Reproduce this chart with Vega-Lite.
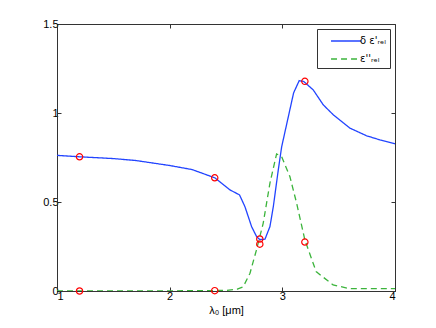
{
  "$schema": "https://vega.github.io/schema/vega-lite/v6.json",
  "width": 338,
  "height": 267,
  "autosize": {"type": "none"},
  "padding": {"left": 57, "top": 24, "right": 41, "bottom": 37},
  "background": "white",
  "config": {
    "font": "Liberation Sans",
    "view": {"stroke": "#333333", "strokeWidth": 1},
    "axis": {
      "grid": false,
      "domainColor": "#333333",
      "tickColor": "#333333",
      "tickSize": -4,
      "labelFont": "Liberation Sans",
      "labelFontSize": 11,
      "labelColor": "#000000",
      "titleFont": "Liberation Sans",
      "titleFontSize": 11,
      "titleFontWeight": "normal",
      "titleColor": "#000000"
    },
    "legend": {
      "labelFont": "DejaVu Sans",
      "labelFontSize": 10,
      "labelColor": "#000000"
    }
  },
  "datasets": {
    "curves": [
      {"s": "δ ε'ᵣₑₗ", "x": 1.0, "y": 0.762},
      {"s": "δ ε'ᵣₑₗ", "x": 1.2, "y": 0.754},
      {"s": "δ ε'ᵣₑₗ", "x": 1.5, "y": 0.744},
      {"s": "δ ε'ᵣₑₗ", "x": 1.7, "y": 0.733},
      {"s": "δ ε'ᵣₑₗ", "x": 2.0, "y": 0.705},
      {"s": "δ ε'ᵣₑₗ", "x": 2.2, "y": 0.682},
      {"s": "δ ε'ᵣₑₗ", "x": 2.4, "y": 0.636},
      {"s": "δ ε'ᵣₑₗ", "x": 2.535, "y": 0.568},
      {"s": "δ ε'ᵣₑₗ", "x": 2.62, "y": 0.54},
      {"s": "δ ε'ᵣₑₗ", "x": 2.668, "y": 0.474},
      {"s": "δ ε'ᵣₑₗ", "x": 2.727, "y": 0.362},
      {"s": "δ ε'ᵣₑₗ", "x": 2.772, "y": 0.305},
      {"s": "δ ε'ᵣₑₗ", "x": 2.8, "y": 0.289},
      {"s": "δ ε'ᵣₑₗ", "x": 2.846, "y": 0.291},
      {"s": "δ ε'ᵣₑₗ", "x": 2.89, "y": 0.362},
      {"s": "δ ε'ᵣₑₗ", "x": 2.92, "y": 0.474},
      {"s": "δ ε'ᵣₑₗ", "x": 2.964, "y": 0.68},
      {"s": "δ ε'ᵣₑₗ", "x": 2.994, "y": 0.81},
      {"s": "δ ε'ᵣₑₗ", "x": 3.05, "y": 0.97},
      {"s": "δ ε'ᵣₑₗ", "x": 3.1, "y": 1.113},
      {"s": "δ ε'ᵣₑₗ", "x": 3.15, "y": 1.182},
      {"s": "δ ε'ᵣₑₗ", "x": 3.19, "y": 1.177},
      {"s": "δ ε'ᵣₑₗ", "x": 3.274, "y": 1.13},
      {"s": "δ ε'ᵣₑₗ", "x": 3.363, "y": 1.046},
      {"s": "δ ε'ᵣₑₗ", "x": 3.452, "y": 0.99},
      {"s": "δ ε'ᵣₑₗ", "x": 3.6, "y": 0.915},
      {"s": "δ ε'ᵣₑₗ", "x": 3.748, "y": 0.872},
      {"s": "δ ε'ᵣₑₗ", "x": 3.866, "y": 0.849},
      {"s": "δ ε'ᵣₑₗ", "x": 4.0, "y": 0.827},
      {"s": "ε''ᵣₑₗ", "x": 1.0, "y": 0.0},
      {"s": "ε''ᵣₑₗ", "x": 2.0, "y": 0.001},
      {"s": "ε''ᵣₑₗ", "x": 2.5, "y": 0.003},
      {"s": "ε''ᵣₑₗ", "x": 2.6, "y": 0.01},
      {"s": "ε''ᵣₑₗ", "x": 2.653, "y": 0.024},
      {"s": "ε''ᵣₑₗ", "x": 2.713, "y": 0.1},
      {"s": "ε''ᵣₑₗ", "x": 2.77, "y": 0.23},
      {"s": "ε''ᵣₑₗ", "x": 2.83, "y": 0.38},
      {"s": "ε''ᵣₑₗ", "x": 2.89, "y": 0.606},
      {"s": "ε''ᵣₑₗ", "x": 2.949, "y": 0.77},
      {"s": "ε''ᵣₑₗ", "x": 2.994, "y": 0.755},
      {"s": "ε''ᵣₑₗ", "x": 3.067, "y": 0.643},
      {"s": "ε''ᵣₑₗ", "x": 3.127, "y": 0.493},
      {"s": "ε''ᵣₑₗ", "x": 3.2, "y": 0.287},
      {"s": "ε''ᵣₑₗ", "x": 3.3, "y": 0.109},
      {"s": "ε''ᵣₑₗ", "x": 3.45, "y": 0.034},
      {"s": "ε''ᵣₑₗ", "x": 3.6, "y": 0.013},
      {"s": "ε''ᵣₑₗ", "x": 4.0, "y": 0.013}
    ],
    "marks": [
      {"x": 1.2, "y": 0.754},
      {"x": 1.2, "y": 0.0},
      {"x": 2.4, "y": 0.636},
      {"x": 2.4, "y": 0.002},
      {"x": 2.8, "y": 0.292},
      {"x": 2.8, "y": 0.263},
      {"x": 3.2, "y": 1.178},
      {"x": 3.2, "y": 0.275}
    ]
  },
  "layer": [
    {
      "data": {"name": "curves"},
      "mark": {"type": "line", "strokeWidth": 1.3, "clip": true},
      "encoding": {
        "x": {
          "field": "x", "type": "quantitative",
          "scale": {"domain": [1, 4], "nice": false},
          "axis": {"values": [1, 2, 3, 4], "format": "~g", "title": "λ₀ [μm]", "labelPadding": 3, "titlePadding": 3}
        },
        "y": {
          "field": "y", "type": "quantitative",
          "scale": {"domain": [0, 1.5], "nice": false},
          "axis": {"values": [0, 0.5, 1, 1.5], "format": "~g", "title": null, "labelPadding": 3}
        },
        "color": {
          "field": "s", "type": "nominal",
          "scale": {"domain": ["δ ε'ᵣₑₗ", "ε''ᵣₑₗ"], "range": ["#2244ff", "#3cb43c"]},
          "legend": {
            "title": null,
            "orient": "top-right",
            "offset": 5,
            "symbolType": "M-2.14,0H2.14",
            "symbolSize": 196,
            "symbolOffset": 17,
            "symbolStrokeWidth": 1.5,
            "strokeColor": "#333333",
            "fillColor": "white",
            "padding": 4,
            "rowPadding": 5,
            "labelOffset": 6
          }
        },
        "strokeDash": {
          "field": "s", "type": "nominal",
          "scale": {"domain": ["δ ε'ᵣₑₗ", "ε''ᵣₑₗ"], "range": [[1, 0], [6, 4]]},
          "legend": null
        },
        "detail": {"field": "s"}
      }
    },
    {
      "data": {"name": "marks"},
      "mark": {"type": "point", "shape": "circle", "filled": false, "color": "#ff0000", "size": 40, "strokeWidth": 1.2, "opacity": 1},
      "encoding": {
        "x": {"field": "x", "type": "quantitative", "axis": {"orient": "top", "values": [1, 2, 3, 4], "labels": false, "title": null, "domain": false}},
        "y": {"field": "y", "type": "quantitative", "axis": {"orient": "right", "values": [0, 0.5, 1, 1.5], "labels": false, "title": null, "domain": false}}
      }
    }
  ],
  "resolve": {"axis": {"x": "independent", "y": "independent"}}
}
